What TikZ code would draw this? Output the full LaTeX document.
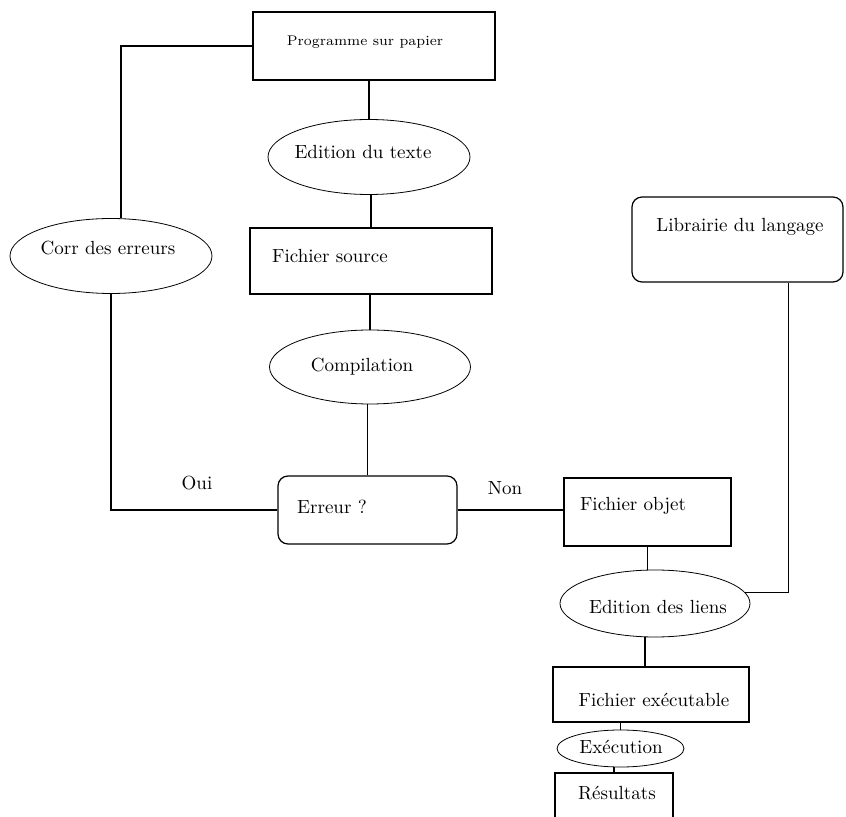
\documentclass[tikz,border=0pt]{standalone}
\usepackage{tikz}
\usetikzlibrary{shapes}

\begin{document}
\begin{tikzpicture}[x=0.5pt,y=-0.5pt,semithick,font=\fontsize{9.5}{11}\selectfont]
		\tikzstyle{boite}=[draw,rectangle,inner sep=0pt]
		\tikzstyle{arrondi}=[boite,rounded corners=5pt]
		\tikzstyle{bulle}=[draw,ellipse,thin,inner sep=0pt]
		\tikzstyle{texte}=[inner sep=0pt]

		\useasboundingbox (0,0) rectangle (846,817);

		% les cadres
		\node[boite,minimum width=121pt,minimum height=34pt] (P) at (374,46) {};
		\node[bulle,minimum width=101pt,minimum height=37.5pt] (E) at (369,157) {};
		\node[boite,minimum width=121pt,minimum height=33pt] (S) at (371,261) {};
		\node[bulle,minimum width=101pt,minimum height=37.5pt] (R) at (111,256) {};
		\node[bulle,minimum width=100.5pt,minimum height=37pt] (C) at (370,367) {};
		\node[arrondi,minimum width=89.5pt,minimum height=34pt] (T) at (367.5,510) {};
		\node[boite,minimum width=83.5pt,minimum height=34pt] (O) at (647.5,512) {};
		\node[arrondi,minimum width=105.5pt,minimum height=42.5pt] (L) at (737.5,239.5) {};
		\node[bulle,minimum width=95pt,minimum height=33.5pt] (D) at (655,603.5) {};
		\node[boite,minimum width=98pt,minimum height=27.5pt] (X) at (651,694.5) {};
		\node[bulle,minimum width=63.5pt,minimum height=18.5pt] (N) at (620.5,748.5) {};
		\node[boite,minimum width=59pt,minimum height=28pt] (Z) at (614,801) {};

		% les textes
		\node[texte,font=\fontsize{7}{8}\selectfont] (Pt) at (365,42) {Programme sur papier};
		\node[texte] (Et) at (363,152) {Edition du texte};
		\node[texte] (St) at (330,256) {Fichier source};
		\node[texte] (Rt) at (108,248) {Corr des erreurs};
		\node[texte] (Ct) at (362,367) {Compilation};
		\node[texte] (Tt) at (332,507) {Erreur ?};
		\node[texte] (Ot) at (633,506) {Fichier objet};
		\node[texte] (Lt) at (740,227) {Librairie du langage};
		\node[texte] (Dt) at (658,607) {Edition des liens};
		\node[texte] (Xt) at (654,700) {Fichier ex\'ecutable};
		\node[texte] (Nt) at (621,747) {Ex\'ecution};
		\node[texte] (Zt) at (617,793) {R\'esultats};
		\node[texte] (oui) at (197,483) {Oui};
		\node[texte] (non) at (505,488) {Non};

		% les liaisons
		\draw (P.west) -| ([xshift=5pt]R.north);
		\draw (R.south) |- (T.west);
		\draw (E.north) -- (E.north |- P.south);
		\draw (S.north) -- (S.north |- E.south);
		\draw (C.north) -- (C.north |- S.south);
		\draw (T.north) -- (T.north |- C.south);
		\draw (T.east) -- (T.east -| O.west);
		\draw (O.south) -- (O.south |- D.north);
		\draw ([xshift=25.5pt]L.south) |- (D.7);
		\draw ([xshift=-5pt]D.south) -- ([xshift=-5pt]D.south |- X.north);
		\draw (N.north) -- (N.north |- X.south);
		\draw (Z.north) -- (Z.north |- N.south);

	\end{tikzpicture}
\end{document}
